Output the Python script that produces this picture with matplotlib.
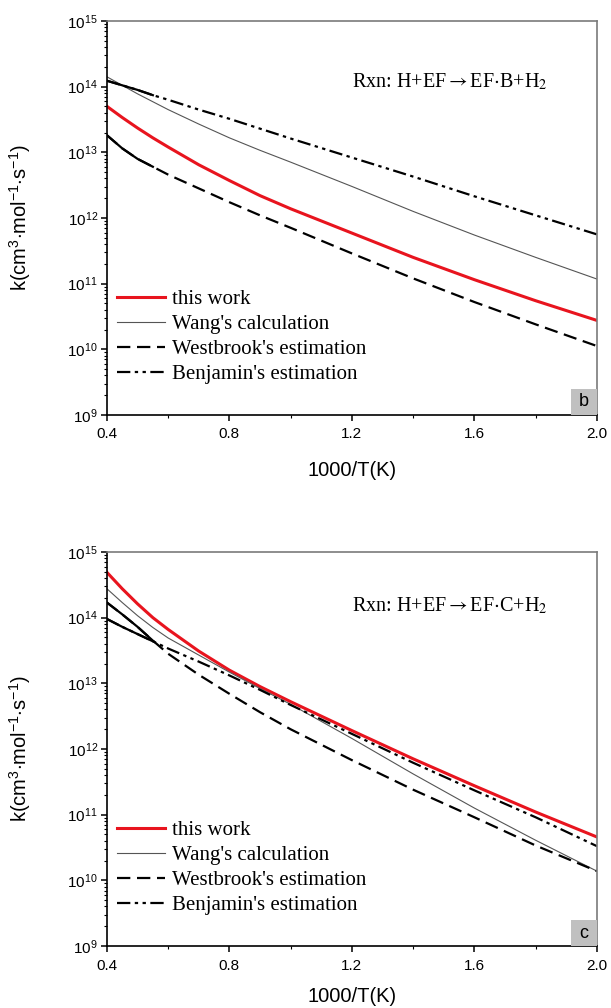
import numpy as np
import matplotlib
matplotlib.use('Agg')
import matplotlib.pyplot as plt
from matplotlib.patches import Rectangle
from matplotlib.ticker import LogLocator, MultipleLocator, NullFormatter

plt.rcParams['font.family'] = ['Liberation Sans', 'DejaVu Sans']
plt.rcParams['mathtext.fontset'] = 'custom'
plt.rcParams['mathtext.rm'] = 'Liberation Sans'
plt.rcParams['mathtext.it'] = 'Liberation Sans:italic'
plt.rcParams['mathtext.bf'] = 'Liberation Sans:bold'

# 1000/T(K)
x = [0.4, 0.45, 0.5, 0.55, 0.6, 0.7, 0.8, 0.9, 1.0, 1.2, 1.4, 1.6, 1.8, 2.0]

# panel b, log10 k
b_this = [13.70, 13.53, 13.37, 13.22, 13.08, 12.81, 12.57, 12.34, 12.14, 11.77, 11.40, 11.06, 10.74, 10.44]
b_wang = [14.15, 14.02, 13.89, 13.77, 13.65, 13.43, 13.22, 13.03, 12.85, 12.48, 12.10, 11.74, 11.40, 11.07]
b_west = [13.26, 13.06, 12.90, 12.78, 12.66, 12.45, 12.24, 12.04, 11.85, 11.46, 11.08, 10.72, 10.38, 10.05]
b_benj = [14.09, 14.02, 13.95, 13.87, 13.80, 13.65, 13.51, 13.36, 13.21, 12.92, 12.63, 12.33, 12.04, 11.75]

# panel c, log10 k
c_this = [14.69, 14.44, 14.21, 14.00, 13.82, 13.49, 13.20, 12.95, 12.72, 12.28, 11.85, 11.44, 11.04, 10.66]
c_wang = [14.44, 14.23, 14.03, 13.85, 13.69, 13.43, 13.17, 12.92, 12.68, 12.16, 11.62, 11.10, 10.61, 10.14]
c_west = [14.23, 14.05, 13.86, 13.65, 13.45, 13.13, 12.84, 12.56, 12.30, 11.83, 11.38, 10.96, 10.53, 10.14]
c_benj = [13.98, 13.86, 13.75, 13.64, 13.53, 13.33, 13.12, 12.90, 12.67, 12.23, 11.79, 11.37, 10.96, 10.52]

decades = [9, 10, 11, 12, 13, 14, 15]
labels = ['this work', "Wang's calculation", "Westbrook's estimation", "Benjamin's estimation"]


def panel(ax, this, wang, west, benj, rxn, letter, rxn_y, xlab_y):
    xs = np.array(x)
    ax.plot(xs, 10**np.array(this), color='#e8141e', lw=2.2, label=labels[0])
    ax.plot(xs, 10**np.array(wang), color='#555555', lw=0.8, label=labels[1])
    ax.plot(xs, 10**np.array(west), color='black', lw=1.6, ls=(0, (6, 3)), label=labels[2])
    ax.plot(xs, 10**np.array(benj), color='black', lw=1.6,
            ls=(0, (6, 2, 1.5, 2, 1.5, 2)), label=labels[3])
    # the dashed curves start with a short solid piece
    ax.plot(xs[:4], 10**np.array(west[:4]), color='black', lw=1.6)
    ax.plot(xs[:4], 10**np.array(benj[:4]), color='black', lw=1.6)

    ax.set_yscale('log')
    ax.set_xlim(0.4, 2.0)
    ax.set_ylim(1e9, 1e15)
    ax.set_yticks([10.0**d for d in decades])
    ax.xaxis.set_major_locator(MultipleLocator(0.4))
    ax.xaxis.set_minor_locator(MultipleLocator(0.2))
    ax.yaxis.set_minor_locator(LogLocator(base=10, subs=np.arange(2, 10), numticks=20))
    ax.yaxis.set_minor_formatter(NullFormatter())
    ax.xaxis.set_major_formatter(plt.FuncFormatter(lambda v, p: f'{v:.1f}'))
    ax.tick_params(which='major', direction='out', length=4, width=1.1, labelsize=11,
                   top=False, right=False)
    ax.tick_params(axis='x', which='major', pad=5)
    ax.tick_params(axis='y', which='major', pad=2.5)
    ax.tick_params(which='minor', direction='out', length=2.2, width=0.8,
                   top=False, right=False)
    for s in ['left', 'bottom']:
        ax.spines[s].set_linewidth(1.2)
        ax.spines[s].set_color('black')
    for s in ['top', 'right']:
        ax.spines[s].set_linewidth(1.2)
        ax.spines[s].set_color('#7a7a7a')

    ax.set_xlabel('1000/T(K)', fontsize=14.5)
    ax.xaxis.set_label_coords(0.5, xlab_y)
    ax.set_ylabel(r'k(cm$^3$$\cdot$mol$^{-1}$$\cdot$s$^{-1}$)', fontsize=14.5)
    ax.yaxis.set_label_coords(-0.151, 0.5)

    ax.text(0.5, rxn_y, rxn, transform=ax.transAxes, ha='left', va='center',
            fontsize=14.5, family='Liberation Serif', math_fontfamily='stix')

    ax.add_patch(Rectangle((0.947, 0.0), 0.053, 0.066, transform=ax.transAxes,
                           facecolor='#c0c0c0', edgecolor='none', zorder=3))
    ax.text(0.9735, 0.033, letter, transform=ax.transAxes, ha='center', va='center',
            fontsize=13, zorder=4)

    ax.legend(loc='upper left', bbox_to_anchor=(0.0, 0.344), borderaxespad=0,
              borderpad=0.5, frameon=False, handlelength=2.3, handletextpad=0.3,
              labelspacing=0.25, prop={'family': 'Liberation Serif', 'size': 15})


fig = plt.figure(figsize=(6.11, 10.08), dpi=100)
ax1 = fig.add_axes([0.175, 0.5883, 0.802, 0.3909])
ax2 = fig.add_axes([0.175, 0.0615, 0.802, 0.3909])

panel(ax1, b_this, b_wang, b_west, b_benj,
      r'Rxn: H+EF$\rightarrow$EF$\cdot$B+H$_2$', 'b', 0.845, -0.117)
panel(ax2, c_this, c_wang, c_west, c_benj,
      r'Rxn: H+EF$\rightarrow$EF$\cdot$C+H$_2$', 'c', 0.862, -0.105)

fig.savefig('out.png', dpi=100)
